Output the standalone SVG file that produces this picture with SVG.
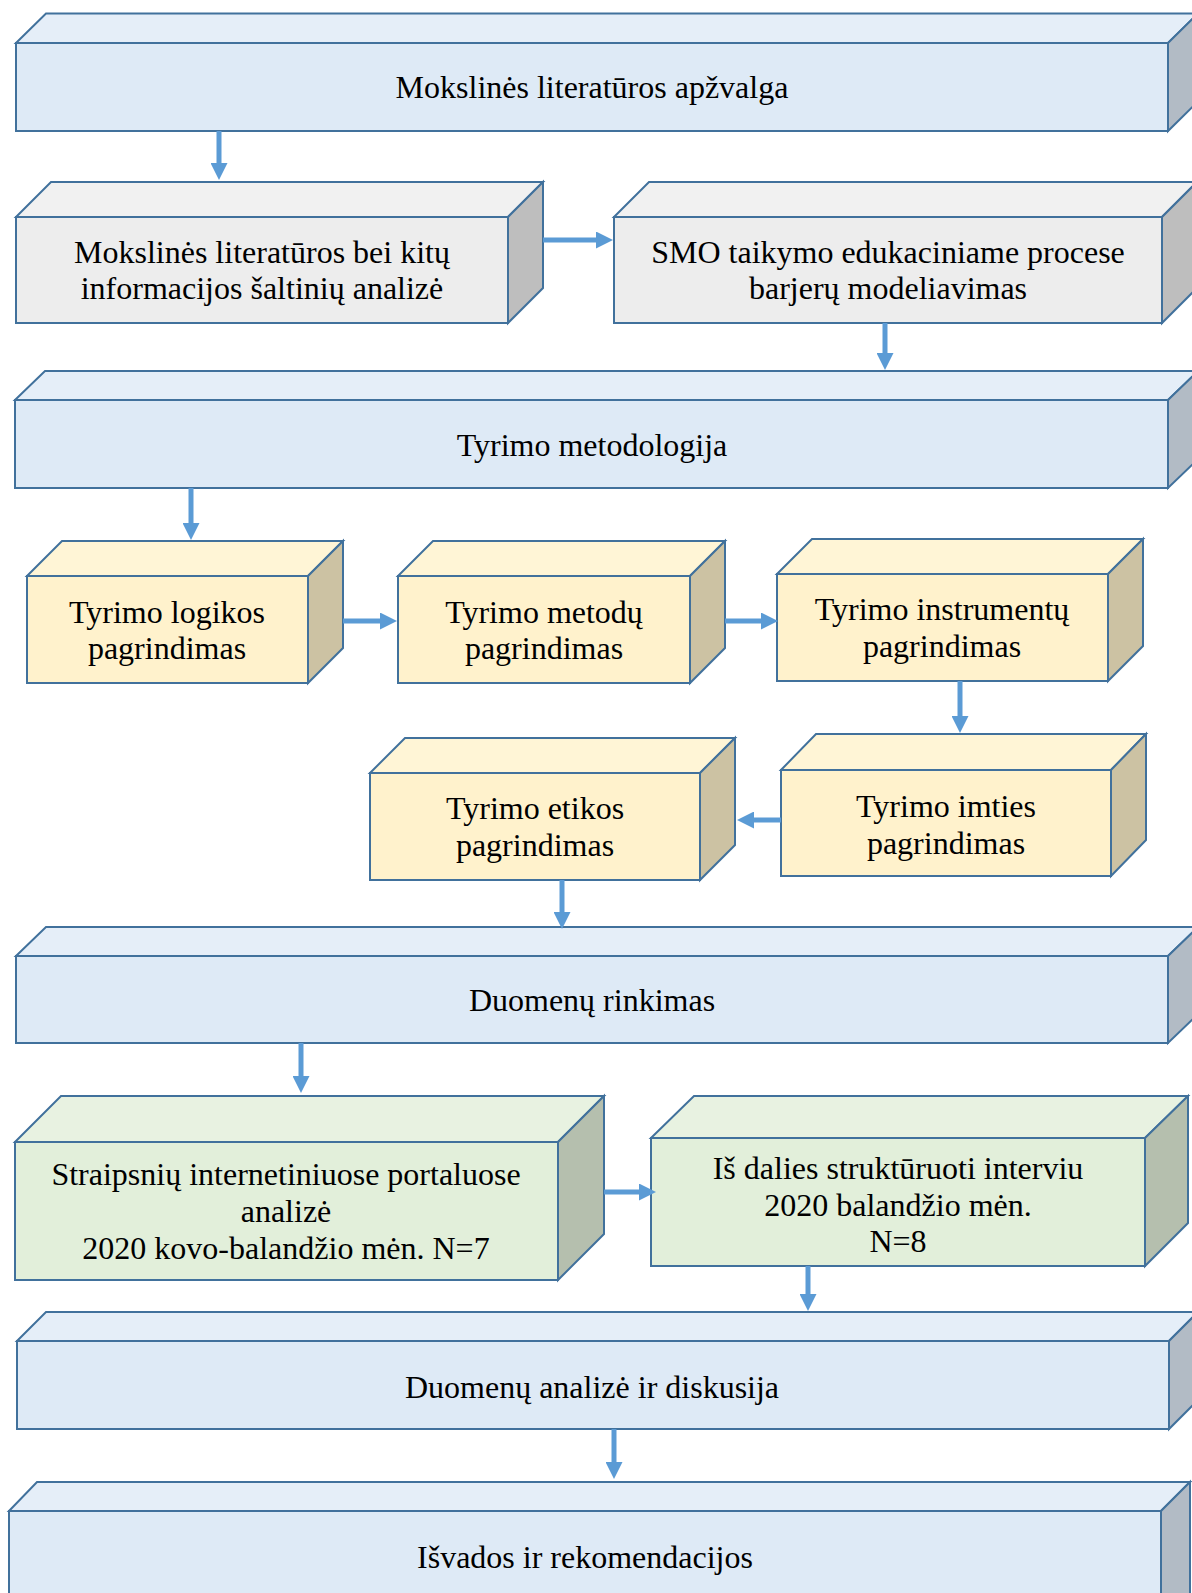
<svg xmlns="http://www.w3.org/2000/svg" width="1192" height="1593" viewBox="0 0 1192 1593">
  <style>
    .edge { stroke: #41719C; stroke-width: 2; stroke-linejoin: miter; }
    .blue .front { fill: #DEEAF6; } .blue .top { fill: #E5EEF8; } .blue .side { fill: #B2BBC5; }
    .gray .front { fill: #EDEDED; } .gray .top { fill: #F1F1F1; } .gray .side { fill: #BEBEBE; }
    .yellow .front { fill: #FFF2CC; } .yellow .top { fill: #FFF5D6; } .yellow .side { fill: #CCC2A3; }
    .green .front { fill: #E2EFDA; } .green .top { fill: #E8F2E1; } .green .side { fill: #B5BFAE; }
    text { font-family: "Liberation Serif", "Times New Roman", serif; font-size: 32px; fill: #000; text-anchor: middle; }
    .conn { stroke: #5B9BD5; stroke-width: 5; fill: none; marker-end: url(#head); }
  </style>
  <defs>
    <marker id="head" markerUnits="userSpaceOnUse" markerWidth="17" markerHeight="17" refX="0" refY="8.5" orient="auto">
      <path d="M0,0 L17,8.5 L0,17 z" fill="#5B9BD5"/>
    </marker>
  </defs>
  <rect width="1192" height="1593" fill="#FFFFFF"/>

  <!-- Mokslinės literatūros apžvalga -->
  <g id="n-apzvalga" class="blue">
    <polygon class="top edge" points="16,43 46,13.5 1198,13.5 1168,43"/>
    <polygon class="side edge" points="1168,43 1198,13.5 1198,101.5 1168,131"/>
    <rect class="front edge" x="16" y="43" width="1152" height="88"/>
    <text x="592" y="98">Mokslinės literatūros apžvalga</text>
  </g>

  <!-- Mokslinės literatūros bei kitų informacijos šaltinių analizė -->
  <g id="n-saltiniai" class="gray">
    <polygon class="top edge" points="16,217 51,182 543,182 508,217"/>
    <polygon class="side edge" points="508,217 543,182 543,288 508,323"/>
    <rect class="front edge" x="16" y="217" width="492" height="106"/>
    <text x="262" y="263">Mokslinės literatūros bei kitų</text>
    <text x="262" y="299">informacijos šaltinių analizė</text>
  </g>

  <!-- SMO barjerų modeliavimas -->
  <g id="n-smo" class="gray">
    <polygon class="top edge" points="614,217 649,182 1197,182 1162,217"/>
    <polygon class="side edge" points="1162,217 1197,182 1197,288 1162,323"/>
    <rect class="front edge" x="614" y="217" width="548" height="106"/>
    <text x="888" y="263">SMO taikymo edukaciniame procese</text>
    <text x="888" y="299">barjerų modeliavimas</text>
  </g>

  <!-- Tyrimo metodologija -->
  <g id="n-metodologija" class="blue">
    <polygon class="top edge" points="15,400 45,371 1198,371 1168,400"/>
    <polygon class="side edge" points="1168,400 1198,371 1198,459 1168,488"/>
    <rect class="front edge" x="15" y="400" width="1153" height="88"/>
    <text x="592" y="456">Tyrimo metodologija</text>
  </g>

  <!-- Tyrimo logikos pagrindimas -->
  <g id="n-logikos" class="yellow">
    <polygon class="top edge" points="27,576 62,541 343,541 308,576"/>
    <polygon class="side edge" points="308,576 343,541 343,648 308,683"/>
    <rect class="front edge" x="27" y="576" width="281" height="107"/>
    <text x="167" y="623">Tyrimo logikos</text>
    <text x="167" y="659">pagrindimas</text>
  </g>

  <!-- Tyrimo metodų pagrindimas -->
  <g id="n-metodu" class="yellow">
    <polygon class="top edge" points="398,576 433,541 725,541 690,576"/>
    <polygon class="side edge" points="690,576 725,541 725,648 690,683"/>
    <rect class="front edge" x="398" y="576" width="292" height="107"/>
    <text x="544" y="623">Tyrimo metodų</text>
    <text x="544" y="659">pagrindimas</text>
  </g>

  <!-- Tyrimo instrumentų pagrindimas -->
  <g id="n-instrumentu" class="yellow">
    <polygon class="top edge" points="777,574 812,539 1143,539 1108,574"/>
    <polygon class="side edge" points="1108,574 1143,539 1143,646 1108,681"/>
    <rect class="front edge" x="777" y="574" width="331" height="107"/>
    <text x="942" y="620">Tyrimo instrumentų</text>
    <text x="942" y="657">pagrindimas</text>
  </g>

  <!-- Tyrimo imties pagrindimas -->
  <g id="n-imties" class="yellow">
    <polygon class="top edge" points="781,770 816,734 1146,734 1111,770"/>
    <polygon class="side edge" points="1111,770 1146,734 1146,840 1111,876"/>
    <rect class="front edge" x="781" y="770" width="330" height="106"/>
    <text x="946" y="817">Tyrimo imties</text>
    <text x="946" y="854">pagrindimas</text>
  </g>

  <!-- Tyrimo etikos pagrindimas -->
  <g id="n-etikos" class="yellow">
    <polygon class="top edge" points="370,773 405,738 735,738 700,773"/>
    <polygon class="side edge" points="700,773 735,738 735,845 700,880"/>
    <rect class="front edge" x="370" y="773" width="330" height="107"/>
    <text x="535" y="819">Tyrimo etikos</text>
    <text x="535" y="856">pagrindimas</text>
  </g>

  <!-- Duomenų rinkimas -->
  <g id="n-rinkimas" class="blue">
    <polygon class="top edge" points="16,956 46,927 1198,927 1168,956"/>
    <polygon class="side edge" points="1168,956 1198,927 1198,1014 1168,1043"/>
    <rect class="front edge" x="16" y="956" width="1152" height="87"/>
    <text x="592" y="1011">Duomenų rinkimas</text>
  </g>

  <!-- Straipsnių analizė -->
  <g id="n-straipsniai" class="green">
    <polygon class="top edge" points="15,1142 61,1096 604,1096 558,1142"/>
    <polygon class="side edge" points="558,1142 604,1096 604,1234 558,1280"/>
    <rect class="front edge" x="15" y="1142" width="543" height="138"/>
    <text x="286" y="1185">Straipsnių internetiniuose portaluose</text>
    <text x="286" y="1222">analizė</text>
    <text x="286" y="1259">2020 kovo-balandžio mėn. N=7</text>
  </g>

  <!-- Iš dalies struktūruoti interviu -->
  <g id="n-interviu" class="green">
    <polygon class="top edge" points="651,1138 694,1096 1188,1096 1145,1138"/>
    <polygon class="side edge" points="1145,1138 1188,1096 1188,1223 1145,1266"/>
    <rect class="front edge" x="651" y="1138" width="494" height="128"/>
    <text x="898" y="1179">Iš dalies struktūruoti interviu</text>
    <text x="898" y="1216">2020 balandžio mėn.</text>
    <text x="898" y="1252">N=8</text>
  </g>

  <!-- Duomenų analizė ir diskusija -->
  <g id="n-analize" class="blue">
    <polygon class="top edge" points="17,1341 46,1312 1198,1312 1169,1341"/>
    <polygon class="side edge" points="1169,1341 1198,1312 1198,1400 1169,1429"/>
    <rect class="front edge" x="17" y="1341" width="1152" height="88"/>
    <text x="592" y="1398">Duomenų analizė ir diskusija</text>
  </g>

  <!-- Išvados ir rekomendacijos -->
  <g id="n-isvados" class="blue">
    <polygon class="top edge" points="9,1511 37,1482 1190,1482 1161,1511"/>
    <polygon class="side edge" points="1161,1511 1190,1482 1190,1610 1161,1640"/>
    <rect class="front edge" x="9" y="1511" width="1152" height="120"/>
    <text x="585" y="1568">Išvados ir rekomendacijos</text>
  </g>

  <!-- connectors: each line stops at the arrowhead base, the marker adds 17px -->
  <g id="connectors">
    <path class="conn" d="M219,131 V163"/>
    <path class="conn" d="M543,240 H596"/>
    <path class="conn" d="M885,323 V353"/>
    <path class="conn" d="M191,488 V523"/>
    <path class="conn" d="M343,621 H380"/>
    <path class="conn" d="M725,621 H761"/>
    <path class="conn" d="M960,681 V716"/>
    <path class="conn" d="M781,820 H754"/>
    <path class="conn" d="M562,880 V912"/>
    <path class="conn" d="M301,1043 V1076"/>
    <path class="conn" d="M604,1192 H639"/>
    <path class="conn" d="M808,1266 V1294"/>
    <path class="conn" d="M614,1429 V1462"/>
  </g>
</svg>
